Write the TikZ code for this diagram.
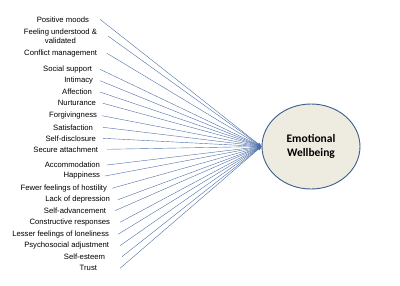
\documentclass[tikz,border=0pt]{standalone}
\usepackage{fontspec}
\setmainfont{Liberation Sans}
\newfontfamily\carlito{Carlito}
\usepackage{xcolor}
\usetikzlibrary{shapes.geometric, arrows.meta, positioning}
\definecolor{linkblue}{HTML}{4F6FA8}
\definecolor{ovalfill}{HTML}{EEECE1}
\definecolor{ovaldraw}{HTML}{3A5E8C}
\tikzstyle{factor} = [anchor=east, inner sep=0pt, outer ysep=0pt, align=center,
font=\fontsize{7.7}{9}\selectfont]
\tikzstyle{link} = [draw=linkblue, line width=0.4pt, -{Stealth[length=4pt, width=3pt]}]
\tikzstyle{wellbeing} = [ellipse, draw=ovaldraw, fill=ovalfill, line width=0.9pt,
minimum width=98pt, minimum height=85pt, inner sep=0pt, align=center,
font=\carlito\bfseries\fontsize{11.5}{13.5}\selectfont]

\begin{document}
\begin{tikzpicture}[x=1pt, y=-1pt]
        \useasboundingbox (0,0) rectangle (400,286);
        \node[wellbeing] (ew) at (311,146.5) {Emotional\\Wellbeing};

        % factors, east anchor = start of the link
        \node[factor, outer xsep=11pt] (pm) at (100,19.3) {Positive moods};
        \node[factor, outer xsep=11pt] (fu) at (108,36) {Feeling understood \&\\validated};
        \node[factor, outer xsep=10pt] (cm) at (107,53.3) {Conflict management};
        \node[factor, outer xsep=8pt] (ss) at (100,69.3) {Social support};
        \node[factor, outer xsep=7pt] (in) at (100,80.7) {Intimacy};
        \node[factor, outer xsep=8pt] (af) at (100,92) {Affection};
        \node[factor, outer xsep=7pt] (nu) at (103,103.3) {Nurturance};
        \node[factor, outer xsep=5pt] (fo) at (102,115.7) {Forgivingness};
        \node[factor, outer xsep=10pt] (sa) at (103,127.3) {Satisfaction};
        \node[factor, outer xsep=7pt] (sd) at (103,138.3) {Self-disclosure};
        \node[factor, outer xsep=9pt] (sat) at (107,149.3) {Secure attachment};
        \node[factor, outer xsep=7pt] (ac) at (107,165) {Accommodation};
        \node[factor, outer xsep=5pt] (ha) at (105,176) {Happiness};
        \node[factor, outer xsep=5pt] (fh) at (112,188.3) {Fewer feelings of hostility};
        \node[factor, outer xsep=8pt] (ld) at (118,199.7) {Lack of depression};
        \node[factor, outer xsep=9pt] (sav) at (115,210.7) {Self-advancement};
        \node[factor, outer xsep=10pt] (cr) at (120,222.3) {Constructive responses};
        \node[factor, outer xsep=9pt] (lf) at (118,234.3) {Lesser feelings of loneliness};
        \node[factor, outer xsep=11pt] (pa) at (120,245.7) {Psychosocial adjustment};
        \node[factor, outer xsep=17pt] (se) at (122,256.7) {Self-esteem};
        \node[factor, outer xsep=23pt] (tr) at (120,268.3) {Trust};

        \draw[link] (pm.east) -- (ew.west);
        \draw[link] (fu.east) -- (ew.west);
        \draw[link] (cm.east) -- (ew.west);
        \draw[link] (ss.east) -- (ew.west);
        \draw[link] (in.east) -- (ew.west);
        \draw[link] (af.east) -- (ew.west);
        \draw[link] (nu.east) -- (ew.west);
        \draw[link] (fo.east) -- (ew.west);
        \draw[link] (sa.east) -- (ew.west);
        \draw[link] (sd.east) -- (ew.west);
        \draw[link] (sat.east) -- (ew.west);
        \draw[link] (ac.east) -- (ew.west);
        \draw[link] (ha.east) -- (ew.west);
        \draw[link] (fh.east) -- (ew.west);
        \draw[link] (ld.east) -- (ew.west);
        \draw[link] (sav.east) -- (ew.west);
        \draw[link] (cr.east) -- (ew.west);
        \draw[link] (lf.east) -- (ew.west);
        \draw[link] (pa.east) -- (ew.west);
        \draw[link] (se.east) -- (ew.west);
        \draw[link] (tr.east) -- (ew.west);
    \end{tikzpicture}
\end{document}
